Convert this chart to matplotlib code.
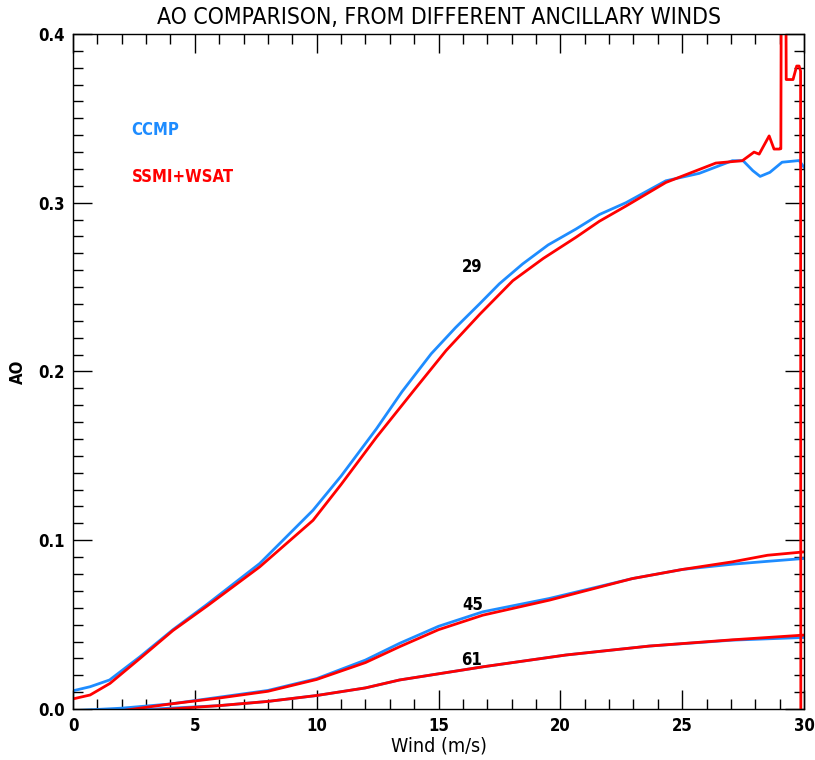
import matplotlib
matplotlib.use("Agg")
import matplotlib.pyplot as plt
from matplotlib.ticker import MultipleLocator

plt.rcParams['font.family'] = ['DejaVu Sans']
plt.rcParams['font.stretch'] = 'condensed'

# curve "29"
wind29_ccmp = [0, 0.7, 1.5, 2.75, 4.1, 5.5, 7.66, 9.85, 11, 12.45, 13.5, 14.7, 15.7, 16.68,
               17.5, 18.45, 19.5, 20.64, 21.6, 22.69, 24.33, 25.7, 27.06, 27.5, 27.9, 28.2,
               28.6, 29.1, 29.8, 30]
ao29_ccmp = [0.0108, 0.0132, 0.0172, 0.031, 0.047, 0.062, 0.0862, 0.1178, 0.138, 0.166, 0.188,
             0.2105, 0.226, 0.240, 0.252, 0.2637, 0.275, 0.2844, 0.293, 0.300, 0.313, 0.3174,
             0.3249, 0.3249, 0.319, 0.3156, 0.318, 0.324, 0.325, 0.321]
wind29_ssmi = [0, 0.7, 1.52, 2.75, 4.1, 5.5, 7.66, 9.85, 11, 12.45, 14, 15.31, 16.7,
               18.05, 19.3, 20.64, 21.6, 22.69, 24.33, 26.38, 27.47, 27.95, 28.16, 28.57,
               28.77, 28.98, 29.05, 29.07, 29.25, 29.27, 29.55, 29.7, 29.8, 29.86, 29.87]
ao29_ssmi = [0.006, 0.0083, 0.0152, 0.030, 0.0465, 0.061, 0.0842, 0.1118, 0.133, 0.161,
             0.189, 0.2124, 0.234, 0.2538, 0.267, 0.2795, 0.289, 0.298, 0.312, 0.3235, 0.3249,
             0.330, 0.3288, 0.3396, 0.3318, 0.3318, 0.332, 0.45, 0.45, 0.373, 0.373, 0.381,
             0.381, 0.378, -0.01]

# curve "45"
wind45 = [0, 2, 4, 6, 8, 10, 12, 13.4, 15, 16.82, 19.55, 22.96, 25.01, 27.06, 28.5, 30]
ao45_ccmp = [-0.001, 0.0005, 0.003, 0.007, 0.011, 0.018, 0.029, 0.0389, 0.049, 0.0576, 0.0655,
             0.0773, 0.0827, 0.0858, 0.0875, 0.0892]
ao45_ssmi = [-0.002, -0.001, 0.003, 0.0065, 0.0105, 0.0175, 0.0275, 0.0369, 0.047, 0.0556,
             0.0645, 0.0773, 0.0827, 0.0872, 0.0911, 0.0931]

# curve "61"
wind61 = [0, 2, 4, 6, 8, 10, 12, 13.4, 16.82, 20.23, 23.65, 27.06, 30]
ao61_ccmp = [-0.001, -0.001, 0.0005, 0.002, 0.0045, 0.008, 0.0125, 0.0172, 0.025, 0.032,
             0.0373, 0.0408, 0.0424]
ao61_ssmi = [-0.002, -0.002, 0.0, 0.002, 0.0045, 0.008, 0.0125, 0.0172, 0.025, 0.032,
             0.0373, 0.041, 0.0438]

blue = '#1E8CFF'
red = '#FF0000'

fig = plt.figure(figsize=(8.15, 7.6), dpi=100)
ax = fig.add_axes([0.0896, 0.0671, 0.8969, 0.8882])

ax.plot(wind29_ccmp, ao29_ccmp, color=blue, linewidth=2)
ax.plot(wind45, ao45_ccmp, color=blue, linewidth=2)
ax.plot(wind61, ao61_ccmp, color=blue, linewidth=2)
ax.plot(wind29_ssmi, ao29_ssmi, color=red, linewidth=2)
ax.plot(wind45, ao45_ssmi, color=red, linewidth=2)
ax.plot(wind61, ao61_ssmi, color=red, linewidth=2)

ax.text(16.4, 0.2617, '29', fontsize=12, fontweight='bold', ha='center', va='center')
ax.text(16.4, 0.0615, '45', fontsize=12, fontweight='bold', ha='center', va='center')
ax.text(16.35, 0.029, '61', fontsize=12, fontweight='bold', ha='center', va='center')
ax.text(2.4, 0.343, 'CCMP', fontsize=12, fontweight='bold', color=blue, ha='left', va='center')
ax.text(2.4, 0.315, 'SSMI+WSAT', fontsize=12, fontweight='bold', color=red,
        ha='left', va='center')

ax.set_xlim(0, 30)
ax.set_ylim(0, 0.4)
ax.xaxis.set_major_locator(MultipleLocator(5))
ax.xaxis.set_minor_locator(MultipleLocator(1))
ax.yaxis.set_major_locator(MultipleLocator(0.1))
ax.yaxis.set_minor_locator(MultipleLocator(0.01))
ax.set_yticklabels(['%.1f' % v for v in ax.get_yticks()])
ax.tick_params(which='both', direction='in', top=True, right=True, width=1, labelsize=12)
ax.tick_params(which='major', length=14, pad=6)
ax.tick_params(which='minor', length=7)
for lab in ax.get_xticklabels() + ax.get_yticklabels():
    lab.set_fontweight('bold')
for s in ax.spines.values():
    s.set_linewidth(1)

ax.set_xlabel('Wind (m/s)', fontsize=14, labelpad=1)
ax.set_ylabel('AO', fontsize=12, fontweight='bold', labelpad=8)
ax.set_title('AO COMPARISON, FROM DIFFERENT ANCILLARY WINDS', fontsize=16.5, pad=7)

fig.savefig('out.png', dpi=100)
